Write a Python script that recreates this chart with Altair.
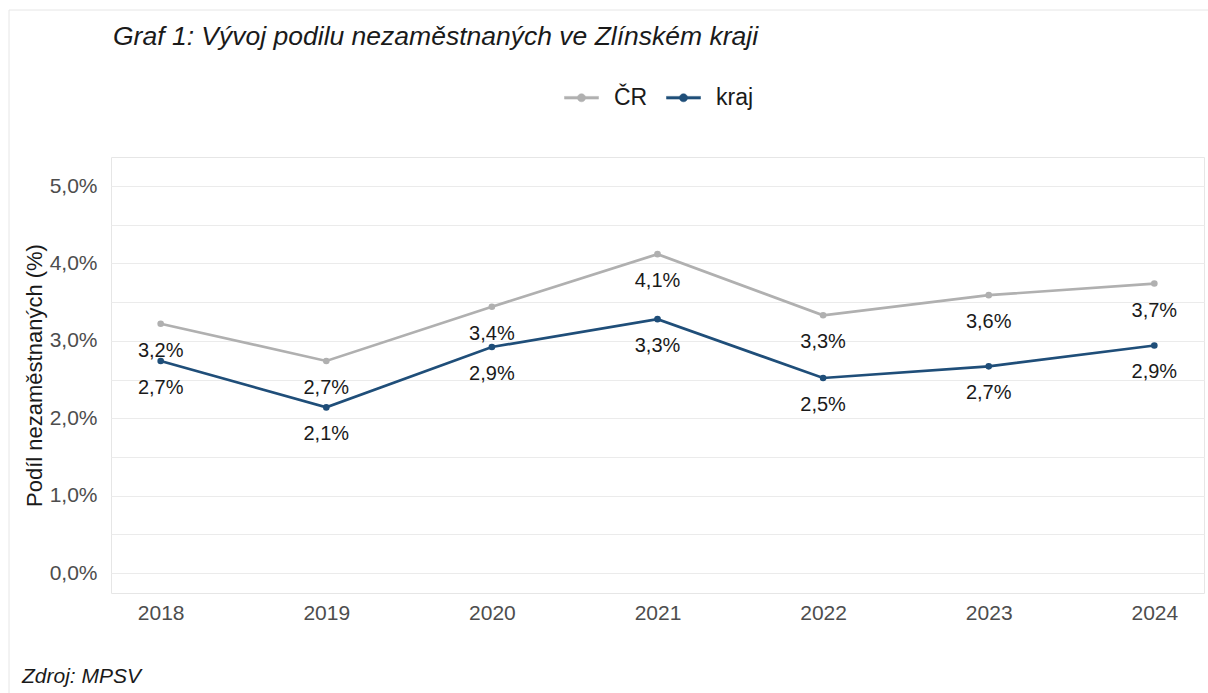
import altair as alt
import pandas as pd

years = [2018, 2019, 2020, 2021, 2022, 2023, 2024]
cr_values = [3.22, 2.74, 3.44, 4.12, 3.33, 3.59, 3.74]
kraj_values = [2.74, 2.14, 2.92, 3.28, 2.52, 2.67, 2.94]
series_names = ["ČR", "kraj"]
series_colors = ["#b0b0b0", "#1f4e79"]
y_ticks = [0, 0.5, 1, 1.5, 2, 2.5, 3, 3.5, 4, 4.5, 5]

rows = []
for name, vals in zip(series_names, [cr_values, kraj_values]):
    for yr, v in zip(years, vals):
        rows.append({"rok": yr, "serie": name, "podil": v,
                     "label": f"{v:.1f}".replace(".", ",") + "%"})
df = pd.DataFrame(rows)

FONT = "Liberation Sans"

x_enc = alt.X("rok:Q",
              scale=alt.Scale(domain=[2017.7, 2024.3], nice=False, zero=False),
              axis=alt.Axis(values=years, format="d", title=None, grid=False,
                            domain=False, ticks=False, labelPadding=9,
                            labelFontSize=21, labelColor="#4d4d4d", labelFont=FONT))
y_enc = alt.Y("podil:Q",
              scale=alt.Scale(domain=[-0.258, 5.375], nice=False, zero=False),
              axis=alt.Axis(values=y_ticks, title="Podíl nezaměstnaných (%)",
                            labelExpr="datum.value % 1 == 0 ? replace(format(datum.value, '.1f'), '.', ',') + '%' : ''",
                            grid=True, gridColor="#ebebeb", gridWidth=1.2,
                            domain=False, ticks=False, labelPadding=14,
                            labelFontSize=21, labelColor="#4d4d4d", labelFont=FONT,
                            titleFontSize=22, titleFont=FONT, titleColor="#1a1a1a",
                            titleFontWeight="normal", titlePadding=3))
color_scale = alt.Scale(domain=series_names, range=series_colors)

legend = alt.Legend(
    title=None, orient="none", legendX=453, legendY=-77, direction="horizontal",
    symbolType="M-1,-0.08H1V0.08H-1ZM0.24,0A0.24,0.24 0 1,1 -0.24,0A0.24,0.24 0 1,1 0.24,0Z",
    symbolSize=1156, symbolStrokeWidth=0.5, labelFontSize=23, labelFont=FONT,
    labelColor="#1a1a1a", labelOffset=15, columnPadding=17,
)

base = alt.Chart(df)
points = base.mark_point(filled=True, size=44, opacity=1).encode(
    x=x_enc, y=y_enc,
    color=alt.Color("serie:N", scale=color_scale, legend=legend))
lines = base.mark_line(strokeWidth=2.7).encode(
    x="rok:Q", y="podil:Q",
    color=alt.Color("serie:N", scale=color_scale, legend=legend))
labels = base.mark_text(dy=27, baseline="middle", fontSize=20, font=FONT,
                        color="#1a1a1a").encode(
    x="rok:Q", y="podil:Q", text="label:N")

caption = alt.Chart(pd.DataFrame({"t": ["Zdroj: MPSV"]})).mark_text(
    align="left", baseline="middle", fontSize=21, fontStyle="italic",
    font=FONT, color="#1a1a1a").encode(
    x=alt.value(-89), y=alt.value(520), text="t:N")

border_df = pd.DataFrame({"a": [0]})
border_left = alt.Chart(border_df).mark_rule(color="#e6e6e6", strokeWidth=1).encode(
    x=alt.value(-102), y=alt.value(-147), y2=alt.value(540))
border_top = alt.Chart(border_df).mark_rule(color="#e6e6e6", strokeWidth=1).encode(
    x=alt.value(-102), x2=alt.value(1100), y=alt.value(-147))

chart = alt.layer(border_left, border_top, points, lines, labels, caption).properties(
    width=1093, height=436,
    title=alt.TitleParams("Graf 1: Vývoj podilu nezaměstnaných ve Zlínském kraji",
                          anchor="start", frame="group", fontSize=26.5,
                          fontStyle="italic", fontWeight="normal", font=FONT,
                          color="#1a1a1a", offset=-41, dx=2),
    autosize=alt.AutoSizeParams(type="none"),
    padding={"left": 111, "top": 157, "right": 4, "bottom": 100},
    background="white",
).configure_view(stroke="#e6e6e6", strokeWidth=1)

chart.save("out.html", embed_options={"renderer": "svg", "actions": False})
